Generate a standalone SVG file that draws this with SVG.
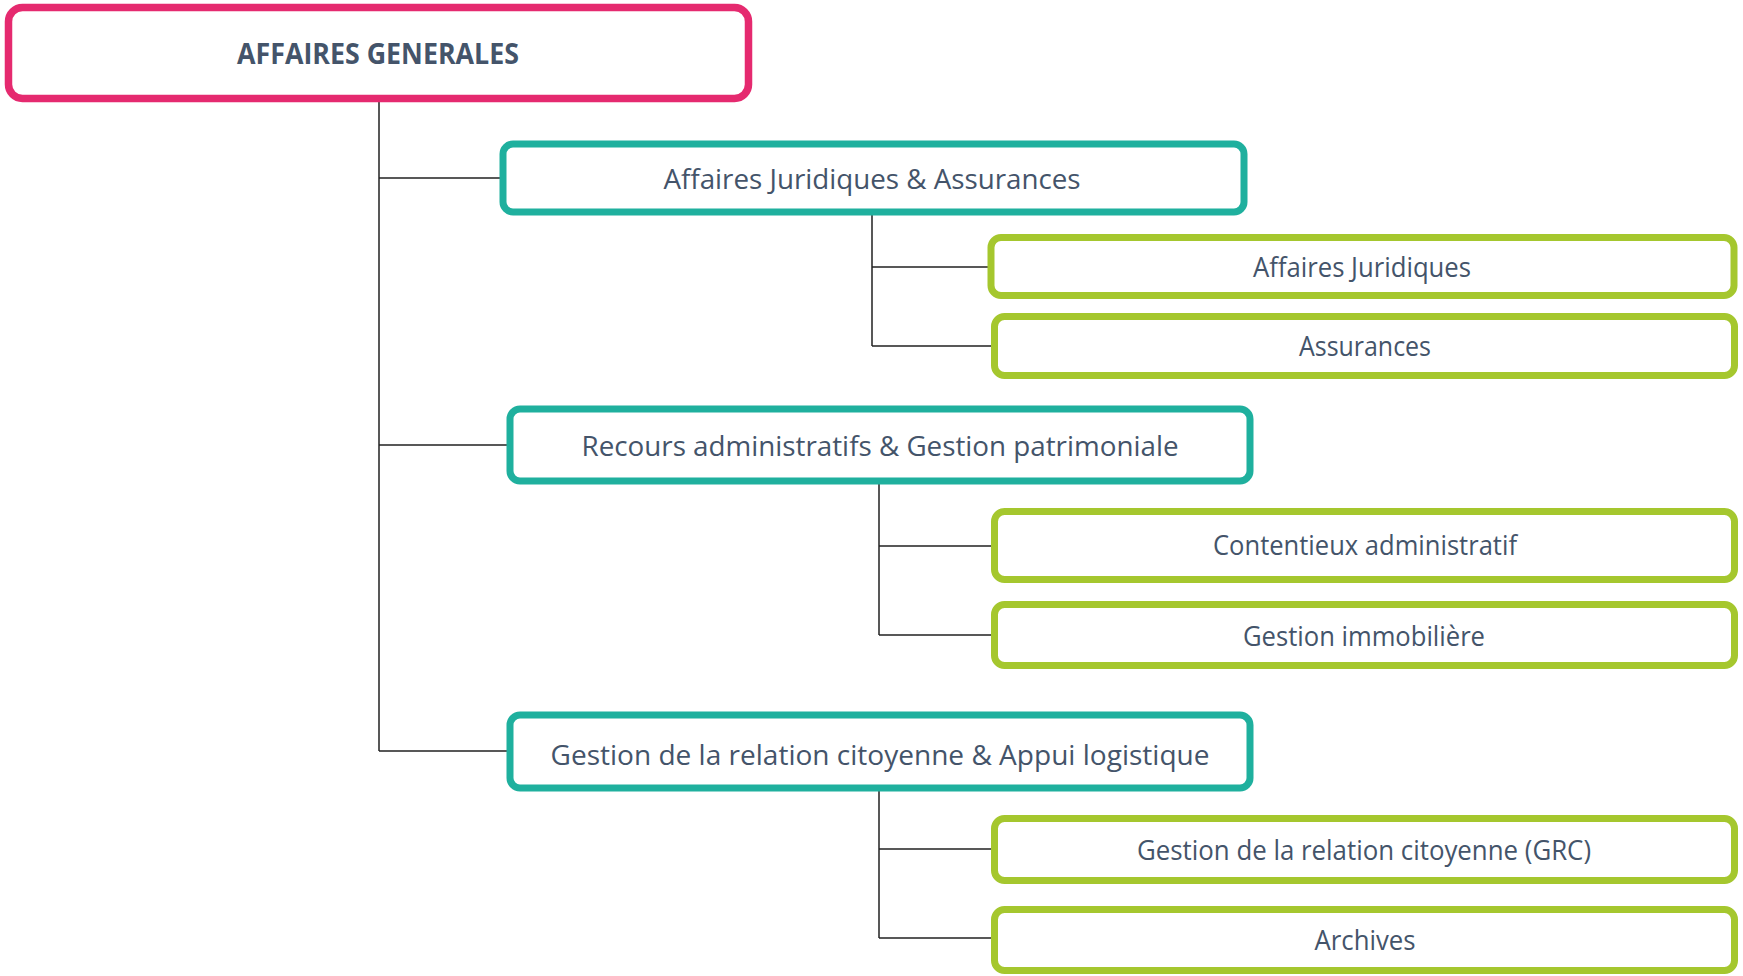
<svg xmlns="http://www.w3.org/2000/svg" width="1743" height="976" viewBox="0 0 1743 976">
<style>
.box{fill:#fff;stroke-width:7}
.root{stroke:#E52A6F;stroke-width:7.5}
.l2{stroke:#1FB09E}
.l3{stroke:#A5C72E}
text{font-family:"Open Sans","Liberation Sans",sans-serif;fill:#44546A;text-anchor:middle}
.t1{font-size:29px;font-weight:bold}
.t2{font-size:28px}
.t3{font-size:27px}
.conn{stroke:#222;stroke-width:1.5;fill:none}
</style>
<rect width="1743" height="976" fill="#fff"/>
<g id="connectors" class="conn">
<path d="M379 101V751M379 178H503M379 445H510M379 751H510"/>
<path d="M872 215V346M872 267H991M872 346H994"/>
<path d="M879 484V635M879 546H994M879 635H994"/>
<path d="M879 791V938M879 849H994M879 938H994"/>
</g>
<g id="root"><rect class="box root" x="8.5" y="7.5" width="740" height="91" rx="14"/><text class="t1" x="378" y="64" textLength="282" lengthAdjust="spacingAndGlyphs">AFFAIRES GENERALES</text></g>
<g id="n-aja"><rect class="box l2" x="503" y="144" width="741" height="68" rx="10"/><text class="t2" x="872" y="189" textLength="417" lengthAdjust="spacingAndGlyphs">Affaires Juridiques &amp; Assurances</text></g>
<g id="n-aj"><rect class="box l3" x="991" y="237.5" width="743" height="58" rx="10"/><text class="t3" x="1362" y="277" textLength="218" lengthAdjust="spacingAndGlyphs">Affaires Juridiques</text></g>
<g id="n-as"><rect class="box l3" x="994.5" y="316.5" width="740" height="59" rx="10"/><text class="t3" x="1365" y="356" textLength="132" lengthAdjust="spacingAndGlyphs">Assurances</text></g>
<g id="n-ragp"><rect class="box l2" x="510" y="409" width="740" height="72" rx="10"/><text class="t2" x="880" y="456" textLength="597" lengthAdjust="spacingAndGlyphs">Recours administratifs &amp; Gestion patrimoniale</text></g>
<g id="n-ca"><rect class="box l3" x="994.5" y="511.5" width="740" height="68" rx="10"/><text class="t3" x="1365" y="555" textLength="304" lengthAdjust="spacingAndGlyphs">Contentieux administratif</text></g>
<g id="n-gi"><rect class="box l3" x="994.5" y="604.5" width="740" height="61" rx="10"/><text class="t3" x="1364" y="646" textLength="242" lengthAdjust="spacingAndGlyphs">Gestion immobilière</text></g>
<g id="n-grcal"><rect class="box l2" x="510" y="715" width="740" height="73" rx="10"/><text class="t2" x="880" y="765" textLength="659" lengthAdjust="spacingAndGlyphs">Gestion de la relation citoyenne &amp; Appui logistique</text></g>
<g id="n-grc"><rect class="box l3" x="994.5" y="818.5" width="740" height="62" rx="10"/><text class="t3" x="1364" y="860" textLength="454" lengthAdjust="spacingAndGlyphs">Gestion de la relation citoyenne (GRC)</text></g>
<g id="n-ar"><rect class="box l3" x="994.5" y="909.5" width="740" height="61" rx="10"/><text class="t3" x="1365" y="950" textLength="101" lengthAdjust="spacingAndGlyphs">Archives</text></g>
</svg>
